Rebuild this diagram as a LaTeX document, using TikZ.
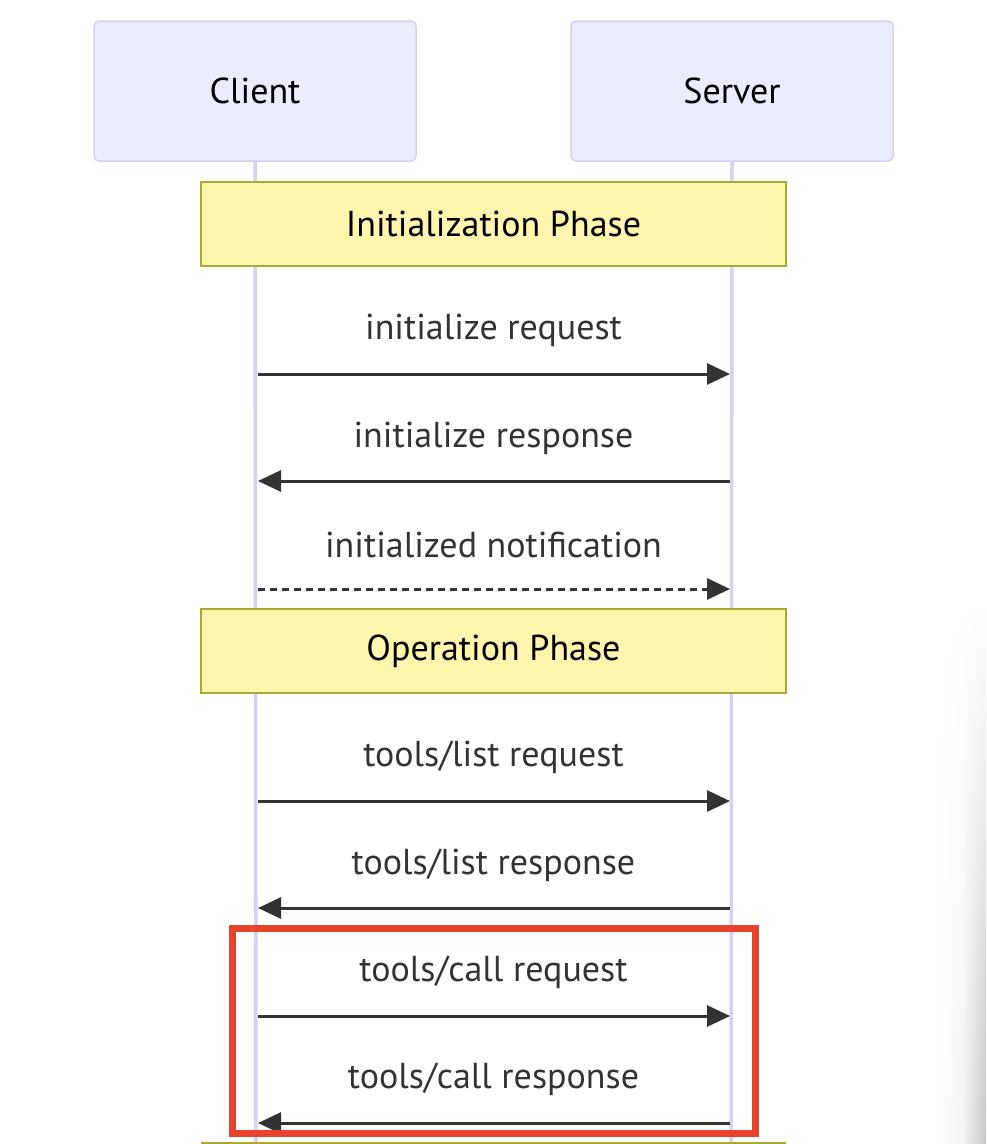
\documentclass[tikz,border=0pt]{standalone}
\usepackage{fontspec}
\setmainfont{PT Sans}
\usetikzlibrary{arrows.meta,fadings}
\definecolor{actorfill}{HTML}{ECECFF}
\definecolor{actorline}{HTML}{D8D0F2}
\definecolor{notefill}{HTML}{FFF5AD}
\definecolor{noteline}{HTML}{AAAA33}
\definecolor{msgtext}{HTML}{333333}
\definecolor{markred}{HTML}{E8432C}
\tikzset{
  actor/.style={draw=actorline,line width=1.5pt,fill=actorfill,rounded corners=5pt,
    minimum width=322pt,minimum height=140pt,font=\fontsize{36}{42}\selectfont},
  phase/.style={draw=noteline,line width=1.5pt,fill=notefill,
    minimum width=585pt,minimum height=84pt,font=\fontsize{36}{42}\selectfont},
  msg/.style={text=msgtext,font=\fontsize{36}{42}\selectfont},
  lifeline/.style={actorline,line width=3.5pt},
  call/.style={msgtext,line width=3pt,-{Triangle[length=23pt,width=21pt]}},
  note/.style={call,dashed,dash pattern=on 7pt off 5pt}
}
\begin{document}
\begin{tikzpicture}[x=1pt,y=-1pt]
  \useasboundingbox (0,0) rectangle (986,1144);
  % screenshot shadow on the right
  \shade[left color=white,right color=black!22,middle color=black!4,path fading=north]
    (938,600) rectangle (986,1144);
  \node[actor] (client) at (255,91) {Client};
  \node[actor] (server) at (732,91) {Server};
  \coordinate (cend) at (256,1144);
  \coordinate (send) at (731,1144);
  \draw[lifeline] (client.south) -- (cend);
  \draw[lifeline] (server.south) -- (send);
  \foreach \n/\y in {1/374,2/481,3/589,4/801,5/908,6/1016,7/1123} {
    \coordinate (c\n) at (258,\y);
    \coordinate (s\n) at (730,\y);
  }
  \node[phase] (init) at (493.5,224) {Initialization Phase};
  \node[phase] (oper) at (493.5,651) {Operation Phase};
  \draw[noteline,line width=1.5pt] (201,1143) -- (786,1143);
  \node[msg] (m1) at (493.5,330) {initialize request};
  \node[msg] (m2) at (493.5,438) {initialize response};
  \node[msg] (m3) at (493.5,545) {initialized notification};
  \node[msg] (m4) at (493.5,757) {tools/list request};
  \node[msg] (m5) at (493.5,865) {tools/list response};
  \node[msg] (m6) at (493.5,972) {tools/call request};
  \node[msg] (m7) at (493.5,1079) {tools/call response};
  \draw[call] (c1) -- (s1);
  \draw[call] (s2) -- (c2);
  \draw[note] (c3) -- (s3);
  \draw[call] (c4) -- (s4);
  \draw[call] (s5) -- (c5);
  \draw[call] (c6) -- (s6);
  \draw[call] (s7) -- (c7);
  % highlight round the tools/call pair
  \draw[markred,line width=7pt] (232.5,928.5) rectangle (755.5,1133.5);
\end{tikzpicture}
\end{document}
